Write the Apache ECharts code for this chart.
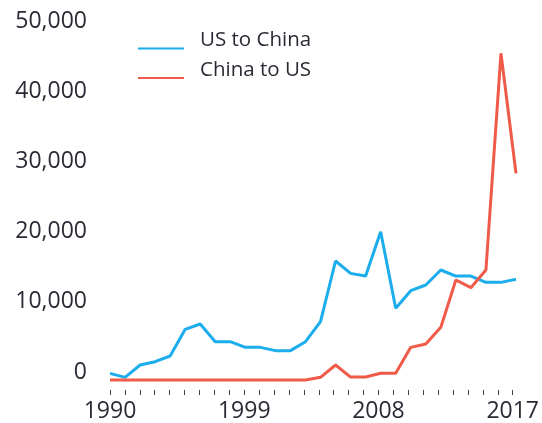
<!DOCTYPE html>
<html>
<head>
<meta charset="utf-8">
<script src="https://cdn.jsdelivr.net/npm/echarts@6/dist/echarts.min.js"></script>
<style>
html,body{margin:0;padding:0;background:#fff;}
#chart{width:542px;height:423px;}
</style>
</head>
<body>
<div id="chart"></div>
<script>
const years = ['1990','1991','1992','1993','1994','1995','1996','1997','1998','1999','2000','2001','2002','2003','2004','2005','2006','2007','2008','2009','2010','2011','2012','2013','2014','2015','2016','2017'];
const usToChina = [950,380,2140,2610,3420,7220,7980,5460,5460,4650,4650,4180,4180,5460,8310,16950,15190,14810,21130,10210,12720,13530,15670,14810,14810,13910,13910,14340];
const chinaToUS = [0,0,0,0,0,0,0,0,0,0,0,0,0,0,380,2140,420,420,950,950,4650,5130,7500,14240,13150,15670,46540,29440];
const yTicks = [0,10000,20000,30000,40000,50000];

const FONT = '"Open Sans", "Noto Sans", sans-serif';
const BLUE = '#1badec';
const RED = '#f05a48';
const TXT = '#2a2a35';
const legendIcon = 'path://M0,0 L46,0 L46,0.01 L0,0.01 Z M0,16 L46,16 L46,18 L0,18 Z';

const chart = echarts.init(document.getElementById('chart'), null, {renderer:'canvas'});
chart.setOption({
  animation: false,
  backgroundColor: '#ffffff',
  grid: [
    {left: 110, right: 26, top: 29, bottom: 43, containLabel: false},
    {left: 110, right: 26, bottom: 33, height: 1, containLabel: false}
  ],
  legend: [
    {
      data: ['US to China'], left: 138, top: 30, padding: 0,
      icon: legendIcon, itemWidth: 46, itemHeight: 18,
      textStyle: {fontFamily: FONT, fontSize: 20.5, color: TXT, padding: [0,0,0,11]}
    },
    {
      data: ['China to US'], left: 138, top: 59.5, padding: 0,
      icon: legendIcon, itemWidth: 46, itemHeight: 18,
      textStyle: {fontFamily: FONT, fontSize: 20.5, color: TXT, padding: [0,0,0,11]}
    }
  ],
  xAxis: [
    {
      gridIndex: 0, type: 'category', data: years, boundaryGap: false,
      axisLine: {show: false}, axisTick: {show: false}, axisLabel: {show: false},
      splitLine: {show: false}
    },
    {
      gridIndex: 1, type: 'category', data: years, boundaryGap: false,
      axisLine: {show: false},
      axisTick: {show: true, interval: 0, length: 5, lineStyle: {color: '#444', width: 1}},
      axisLabel: {interval: 8, margin: 10, fontFamily: FONT, fontSize: 23, color: TXT},
      splitLine: {show: false}
    }
  ],
  yAxis: [
    {
      gridIndex: 0, type: 'value',
      min: yTicks[0], max: yTicks[yTicks.length-1], interval: 10000,
      axisLine: {show: false}, axisTick: {show: false}, splitLine: {show: false},
      axisLabel: {
        margin: 23, fontFamily: FONT, fontSize: 23, color: TXT,
        verticalAlign: 'bottom', lineHeight: 16,
        formatter: v => v.toLocaleString('en-US')
      }
    },
    {gridIndex: 1, type: 'value', show: false}
  ],
  series: [
    {name: 'US to China', type: 'line', data: usToChina, showSymbol: false, clip: false,
     xAxisIndex: 0, yAxisIndex: 0,
     itemStyle: {color: BLUE}, lineStyle: {color: BLUE, width: 3}},
    {name: 'China to US', type: 'line', data: chinaToUS, showSymbol: false, clip: false,
     xAxisIndex: 0, yAxisIndex: 0,
     itemStyle: {color: RED}, lineStyle: {color: RED, width: 3}}
  ]
});
</script>
</body>
</html>
